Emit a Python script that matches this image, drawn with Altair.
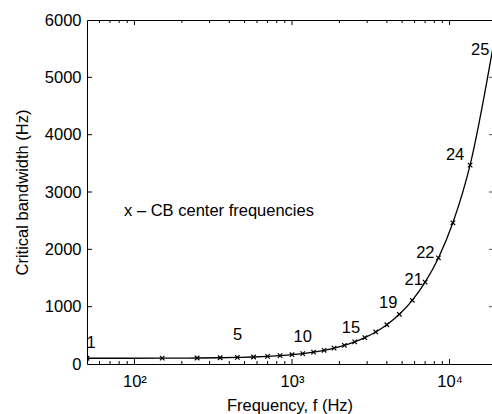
import altair as alt
import pandas as pd

# ---- data ----
center_freq = [50, 150, 250, 350, 450, 570, 700, 840, 1000, 1170, 1370, 1600, 1850,
               2150, 2500, 2900, 3400, 4000, 4800, 5800, 7000, 8500, 10500, 13500, 19500]
bandwidth = [100, 102, 105, 109, 114, 122, 133, 146, 162, 182, 208, 239, 277,
             325, 386, 460, 559, 685, 867, 1111, 1427, 1850, 2463, 3468, 5750]

label_text = ["1", "5", "10", "15", "19", "21", "22", "24", "25"]
label_freq = [53, 451, 1169, 2369, 4083, 5927, 7020, 10840, 15640]
label_bw = [366, 506, 476, 623, 1069, 1465, 1931, 3646, 5477]

note_text = ["x \u2013 CB center frequencies"]
note_freq = [86]
note_bw = [2660]

x_major = [100, 1000, 10000]
x_minor = [60, 70, 80, 90, 200, 300, 400, 500, 600, 700, 800, 900,
           2000, 3000, 4000, 5000, 6000, 7000, 8000, 9000]
y_ticks = [0, 1000, 2000, 3000, 4000, 5000, 6000]
y_inner = [1000, 2000, 3000, 4000, 5000]

W, H = 405, 344
FONT = "Liberation Sans"
FS = 16.5

curve = pd.DataFrame({"f": center_freq, "cb": bandwidth})
labels = pd.DataFrame({"t": label_text, "f": label_freq, "cb": label_bw})
note = pd.DataFrame({"t": note_text, "f": note_freq, "cb": note_bw})
xmaj = pd.DataFrame({"f": x_major})
xmin = pd.DataFrame({"f": x_minor})
yin = pd.DataFrame({"cb": y_inner})

xs = alt.Scale(type="log", domain=[50, 18600], nice=False)
ys = alt.Scale(domain=[0, 6000], nice=False, zero=False)

x_axis = alt.Axis(
    values=x_major, tickSize=0, grid=False, domain=True, domainColor="black", domainWidth=1,
    labelExpr="datum.value == 100 ? '10\u00b2' : datum.value == 1000 ? '10\u00b3' : '10\u2074'",
    labelFont=FONT, labelFontSize=FS, labelColor="black", labelPadding=9,
    title="Frequency, f (Hz)", titleFont=FONT, titleFontSize=FS, titleFontWeight="normal",
    titleColor="black", titleBaseline="middle", titleY=41,
)
y_axis = alt.Axis(
    orient="left", format="d",
    values=y_ticks, tickSize=0, grid=False, domain=True, domainColor="black", domainWidth=1,
    labelFont=FONT, labelFontSize=FS, labelColor="black", labelPadding=6,
    title="Critical bandwidth (Hz)", titleFont=FONT, titleFontSize=FS, titleFontWeight="normal",
    titleColor="black", titleBaseline="middle", titleX=-65, titleY=H / 2,
)
top_axis = alt.Axis(orient="top", labels=False, ticks=False, grid=False, domain=True,
                    domainColor="black", domainWidth=1, title=None)

line = alt.Chart(curve).mark_line(color="black", strokeWidth=1.3, interpolate="monotone",
                                   clip=True).encode(
    x=alt.X("f:Q", scale=xs, axis=x_axis),
    y=alt.Y("cb:Q", scale=ys, axis=y_axis),
)
pts = alt.Chart(curve).mark_point(shape="M-1,-1L1,1M-1,1L1,-1", size=20, strokeWidth=1.2,
                                   color="black", filled=False, opacity=1, clip=True).encode(
    x=alt.X("f:Q", scale=xs, axis=None),
    y=alt.Y("cb:Q", scale=ys, axis=None),
)
lab = alt.Chart(labels).mark_text(font=FONT, fontSize=FS, color="black", align="center",
                                  baseline="middle").encode(
    x=alt.X("f:Q", scale=xs, axis=None),
    y=alt.Y("cb:Q", scale=ys, axis=None),
    text="t:N",
)
nt = alt.Chart(note).mark_text(font=FONT, fontSize=FS, color="black", align="left",
                               baseline="middle").encode(
    x=alt.X("f:Q", scale=xs, axis=None),
    y=alt.Y("cb:Q", scale=ys, axis=None),
    text="t:N",
)

def xticks(df, size, ypos, axis=None):
    return alt.Chart(df).mark_tick(orient="vertical", size=size, thickness=1,
                                   color="black", opacity=1).encode(
        x=alt.X("f:Q", scale=xs, axis=axis),
        y=alt.value(ypos),
    )

bmaj = xticks(xmaj, 5, H - 2.5)
bmin = xticks(xmin, 3, H - 1.5)
tmaj = xticks(xmaj, 5, 2.5, axis=top_axis)
tmin = xticks(xmin, 3, 1.5)

lt = alt.Chart(yin).mark_tick(orient="horizontal", size=5, thickness=1, color="black",
                              opacity=1).encode(
    y=alt.Y("cb:Q", scale=ys, axis=None), x=alt.value(2.5))
rt = alt.Chart(yin).mark_tick(orient="horizontal", size=4, thickness=1, color="#555555",
                              opacity=1).encode(
    y=alt.Y("cb:Q", scale=ys, axis=None), x=alt.value(W - 1))

chart = alt.layer(line, pts, lab, nt, bmaj, bmin, tmaj, tmin, lt, rt).resolve_axis(
    x="independent", y="independent"
).properties(
    width=W, height=H,
    autosize=alt.AutoSizeParams(type="none"),
    padding={"left": 87, "top": 20, "right": 0, "bottom": 50},
    background="white",
).configure_view(stroke=None)

chart.save("out.html", embed_options={"renderer": "svg", "actions": False})
